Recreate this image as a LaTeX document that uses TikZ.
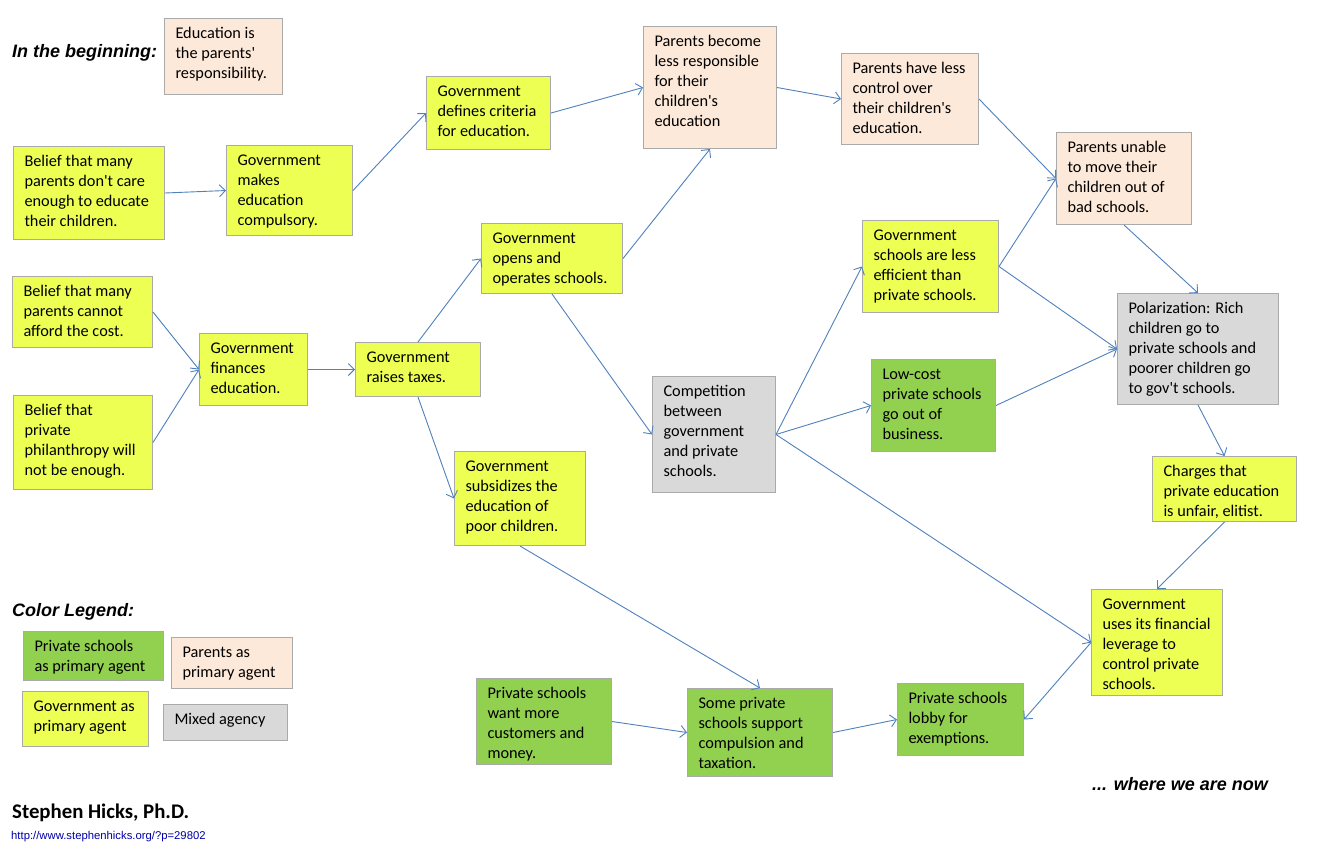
\documentclass[tikz,border=0pt]{standalone}
\usepackage{fontspec}
\setmainfont{Carlito}
\newfontfamily\arialfont{Liberation Sans}
\usetikzlibrary{arrows.meta}
\definecolor{govcol}{RGB}{238,255,84}
\definecolor{pricol}{RGB}{146,208,80}
\definecolor{parcol}{RGB}{253,233,217}
\definecolor{mixcol}{RGB}{217,217,217}
\definecolor{edgecol}{RGB}{170,170,170}
\definecolor{arrcol}{RGB}{79,129,189}
\definecolor{urlcol}{RGB}{0,0,170}
\newcommand\sq{\textquotesingle}
\newcommand\bx[7]{\node[#6] (#1) at (#2pt,-#3pt) {\parbox[c][\dimexpr #5pt-#3pt-12pt\relax][t]{\dimexpr #4pt-#2pt-22pt\relax}{\begin{tabular}[t]{@{}l@{}}#7\end{tabular}}};}
\tikzset{
  boxbase/.style={draw=edgecol, line width=1pt, anchor=north west, inner xsep=11pt, inner ysep=6pt, font=\fontsize{16.3}{20}\selectfont},
  gov/.style={boxbase, fill=govcol},
  pri/.style={boxbase, fill=pricol},
  par/.style={boxbase, fill=parcol},
  mix/.style={boxbase, fill=mixcol},
  conn/.style={draw=arrcol, line width=0.9pt, -{Straight Barb[length=6pt,width=12pt]}},
  title/.style={font=\arialfont\bfseries\itshape\fontsize{18}{22}\selectfont, anchor=base west, inner sep=0pt},
}
\begin{document}
\begin{tikzpicture}
\fill[white] (0,0) rectangle (1318pt,-855pt);
\useasboundingbox (0,0) rectangle (1318pt,-855pt);

\bx{edu}{164}{18}{282}{94}{par}{Education is\\the parents\sq\\responsibility.}
\bx{bel1}{13}{146}{164}{239}{gov}{Belief that many\\parents don\sq t care\\enough to educate\\their children.}
\bx{comp}{226}{145}{352}{235}{gov}{Government\\makes\\education\\compulsory.}
\bx{crit}{426}{76}{550}{149}{gov}{Government\\defines criteria\\for education.}
\bx{lessresp}{643}{26}{776}{148}{par}{Parents become\\less responsible\\for their\\children\sq s\\education}
\bx{lessctl}{841}{53}{978}{144}{par}{Parents have less\\control over\\their children\sq s\\education.}
\bx{unable}{1056}{132}{1191}{224}{par}{Parents unable\\to move their\\children out of\\bad schools.}
\bx{opens}{481}{223}{622}{293}{gov}{Government\\opens and\\operates schools.}
\bx{bel2}{12}{276}{152}{347}{gov}{Belief that many\\parents cannot\\afford the cost.}
\bx{fin}{199}{333}{307}{405}{gov}{Government\\finances\\education.}
\bx{raise}{355}{342}{480}{396}{gov}{Government\\raises taxes.}
\bx{bel3}{13}{395}{152}{489}{gov}{Belief that\\private\\philanthropy will\\not be enough.}
\bx{ineff}{862}{220}{998}{312}{gov}{Government\\schools are less\\efficient than\\private schools.}
\bx{polar}{1117}{293}{1278}{404}{mix}{Polarization: Rich\\children go to\\private schools and\\poorer children go\\to gov\sq t schools.}
\bx{lowcost}{871}{359}{995}{451}{pri}{Low-cost\\private schools\\go out of\\business.}
\bx{compet}{652}{376}{775}{492}{mix}{Competition\\between\\government\\and private\\schools.}
\bx{subsid}{454}{451}{585}{545}{gov}{Government\\subsidizes the\\education of\\poor children.}
\bx{charges}{1152}{456}{1296}{521}{gov}{Charges that\\private education\\is unfair, elitist.}
\bx{lever}{1091}{589}{1222}{695}{gov}{Government\\uses its financial\\leverage to\\control private\\schools.}
\bx{want}{476}{678}{611}{764}{pri}{Private schools\\want more\\customers and\\money.}
\bx{support}{687}{688}{832}{776}{pri}{Some private\\schools support\\compulsion and\\taxation.}
\bx{lobby}{897}{683}{1023}{755}{pri}{Private schools\\lobby for\\exemptions.}

\bx{lgpri}{23}{631}{163}{680}{pri}{Private schools\\as primary agent}
\bx{lgpar}{171}{637}{292}{688}{par}{Parents as\\primary agent}
\bx{lggov}{22}{691}{148}{746}{gov}{Government as\\primary agent}
\bx{lgmix}{163}{704}{287}{740}{mix}{Mixed agency}

\node[title] (tbegin) at (12pt,-57pt) {In the beginning:};
\node[title] (tlegend) at (12pt,-616pt) {Color Legend:};
\node[title] (tnow) at (1092pt,-790pt) {... where we are now};
\node[font=\bfseries\fontsize{20.8}{24}\selectfont, anchor=base west, inner sep=0pt] (author) at (12pt,-818pt) {Stephen Hicks, Ph.D.};
\node[font=\arialfont\fontsize{11.3}{13}\selectfont, text=urlcol, anchor=base west, inner sep=0pt] (url) at (11pt,-839pt) {http://www.stephenhicks.org/?p=29802};

\draw[conn] (bel1.east) -- (comp.west);
\draw[conn] (comp.east) -- (crit.west);
\draw[conn] (crit.east) -- (lessresp.west);
\draw[conn] (lessresp.east) -- (lessctl.west);
\draw[conn] (lessctl.east) -- (unable.west);
\draw[conn] (unable.south) -- (polar.north);
\draw[conn] (polar.south) -- (charges.north);
\draw[conn] (charges.south) -- (lever.north);
\draw[conn] (lever.west) -- (lobby.east);
\draw[conn] (bel2.east) -- (fin.west);
\draw[conn] (bel3.east) -- (fin.west);
\draw[conn] (fin.east) -- (raise.west);
\draw[conn] (raise.north) -- (opens.west);
\draw[conn] (raise.south) -- (subsid.west);
\draw[conn] (opens.east) -- (lessresp.south);
\draw[conn] (opens.south) -- (compet.west);
\draw[conn] (compet.east) -- (ineff.west);
\draw[conn] (compet.east) -- (lowcost.west);
\draw[conn] (compet.east) -- (lever.west);
\draw[conn] (ineff.east) -- (unable.west);
\draw[conn] (ineff.east) -- (polar.west);
\draw[conn] (lowcost.east) -- (polar.west);
\draw[conn] (subsid.south) -- (support.north);
\draw[conn] (want.east) -- (support.west);
\draw[conn] (support.east) -- (lobby.west);
\end{tikzpicture}
\end{document}
